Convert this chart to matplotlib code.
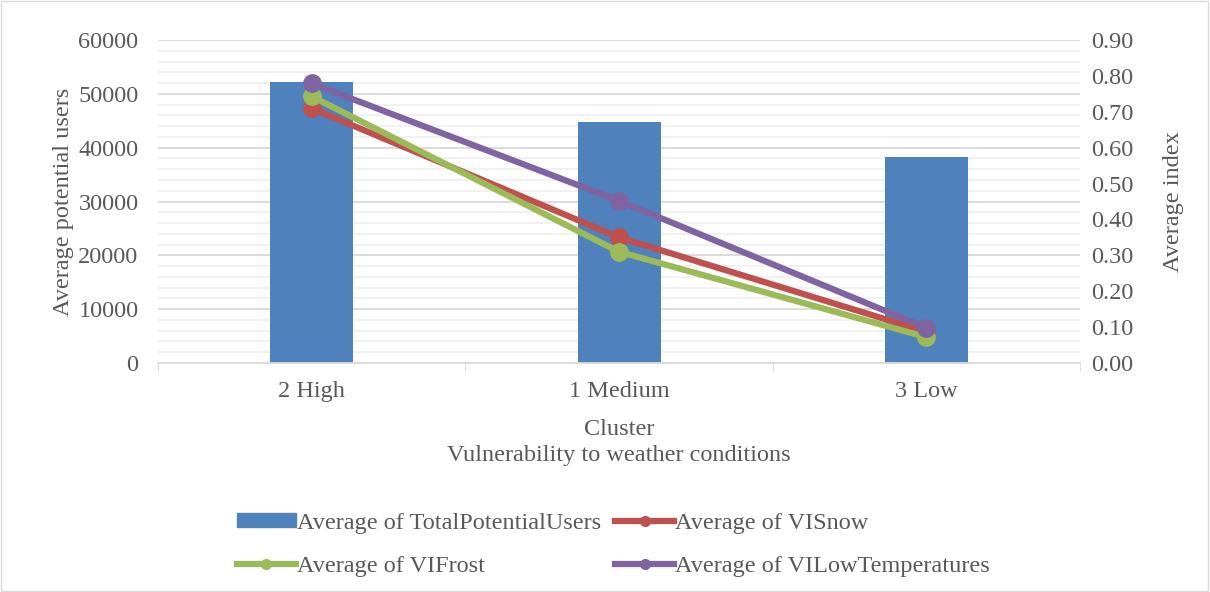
import matplotlib.pyplot as plt
from matplotlib.lines import Line2D
from matplotlib.patches import Patch
import numpy as np

clusters = ["2 High", "1 Medium", "3 Low"]
total_users = [52200, 44800, 38200]
vi_snow = [0.71, 0.35, 0.087]
vi_frost = [0.743, 0.31, 0.072]
vi_low_temp = [0.779, 0.452, 0.098]

plt.rcParams['font.family'] = ['Liberation Serif', 'DejaVu Serif']
txt = '#595959'
grid_c = '#d9d9d9'
fs = 17.5

fig = plt.figure(figsize=(12.1, 5.92), dpi=100)
ax = fig.add_axes([0.1306, 0.3868, 0.762, 0.5456])
x = np.arange(len(clusters))

ax.bar(x, total_users, width=0.27, color='#4f81bd', zorder=2)
ax.set_xlim(-0.5, 2.5)
ax.set_ylim(0, 60000)
ax.set_yticks(np.arange(0, 60001, 10000))
ax.set_yticks(np.arange(0, 60001, 2000), minor=True)
ax.grid(axis='y', which='major', color=grid_c, lw=1.3, zorder=0)
ax.grid(axis='y', which='minor', color='#f0f0f0', lw=1.3, zorder=0)
ax.set_axisbelow(True)
ax.set_xticks(x)
ax.set_xticklabels(clusters)
ax.set_xticks([-0.5, 0.5, 1.5, 2.5], minor=True)
ax.tick_params(axis='x', which='major', length=0, pad=13, labelsize=fs, labelcolor=txt)
ax.tick_params(axis='x', which='minor', length=6, color=grid_c)
ax.tick_params(axis='y', which='both', length=0, labelsize=fs, labelcolor=txt, pad=14)
for s in ['top', 'right', 'left']:
    ax.spines[s].set_visible(False)
ax.spines['bottom'].set_color(grid_c)
ax.spines['bottom'].set_linewidth(1.3)
ax.set_ylabel("Average potential users", fontsize=fs, color=txt, labelpad=3)
ax.set_xlabel("Cluster\nVulnerability to weather conditions", fontsize=fs, color=txt,
              linespacing=1.35, labelpad=12)

ax2 = ax.twinx()
series = [("Average of VISnow", vi_snow, '#c0504d'),
          ("Average of VIFrost", vi_frost, '#9bbb59'),
          ("Average of VILowTemperatures", vi_low_temp, '#8064a2')]
for name, vals, col in series:
    ax2.plot(x, vals, color=col, lw=4.5, marker='o', ms=12.5, zorder=3)
ax2.set_ylim(0, 0.9)
ax2.set_yticks(np.arange(0, 0.91, 0.1))
ax2.set_yticklabels([f"{v:.2f}" for v in np.arange(0, 0.91, 0.1)])
ax2.tick_params(axis='y', length=0, labelsize=fs, labelcolor=txt, pad=8)
for s in ax2.spines.values():
    s.set_visible(False)
ax2.set_ylabel("Average index", fontsize=fs, color=txt, labelpad=21)

h_total = Patch(color='#4f81bd', label="Average of TotalPotentialUsers")
h_lines = [Line2D([], [], color=c, lw=4.5, marker='o', ms=7, label=n) for n, v, c in series]
handles = [h_total, h_lines[1], h_lines[0], h_lines[2]]
leg = fig.legend(handles=handles, loc='center', bbox_to_anchor=(0.507, 0.08), ncol=2,
                 frameon=False, fontsize=fs, handlelength=2.4, handleheight=0.5,
                 handletextpad=0.05, columnspacing=0.6, labelspacing=0.9)
for t in leg.get_texts():
    t.set_color(txt)

fig.patches.append(plt.Rectangle((0.001, 0.001), 0.997, 0.997, transform=fig.transFigure,
                                 fill=False, edgecolor='#d9d9d9', lw=1))
fig.savefig("out.png", dpi=100)
